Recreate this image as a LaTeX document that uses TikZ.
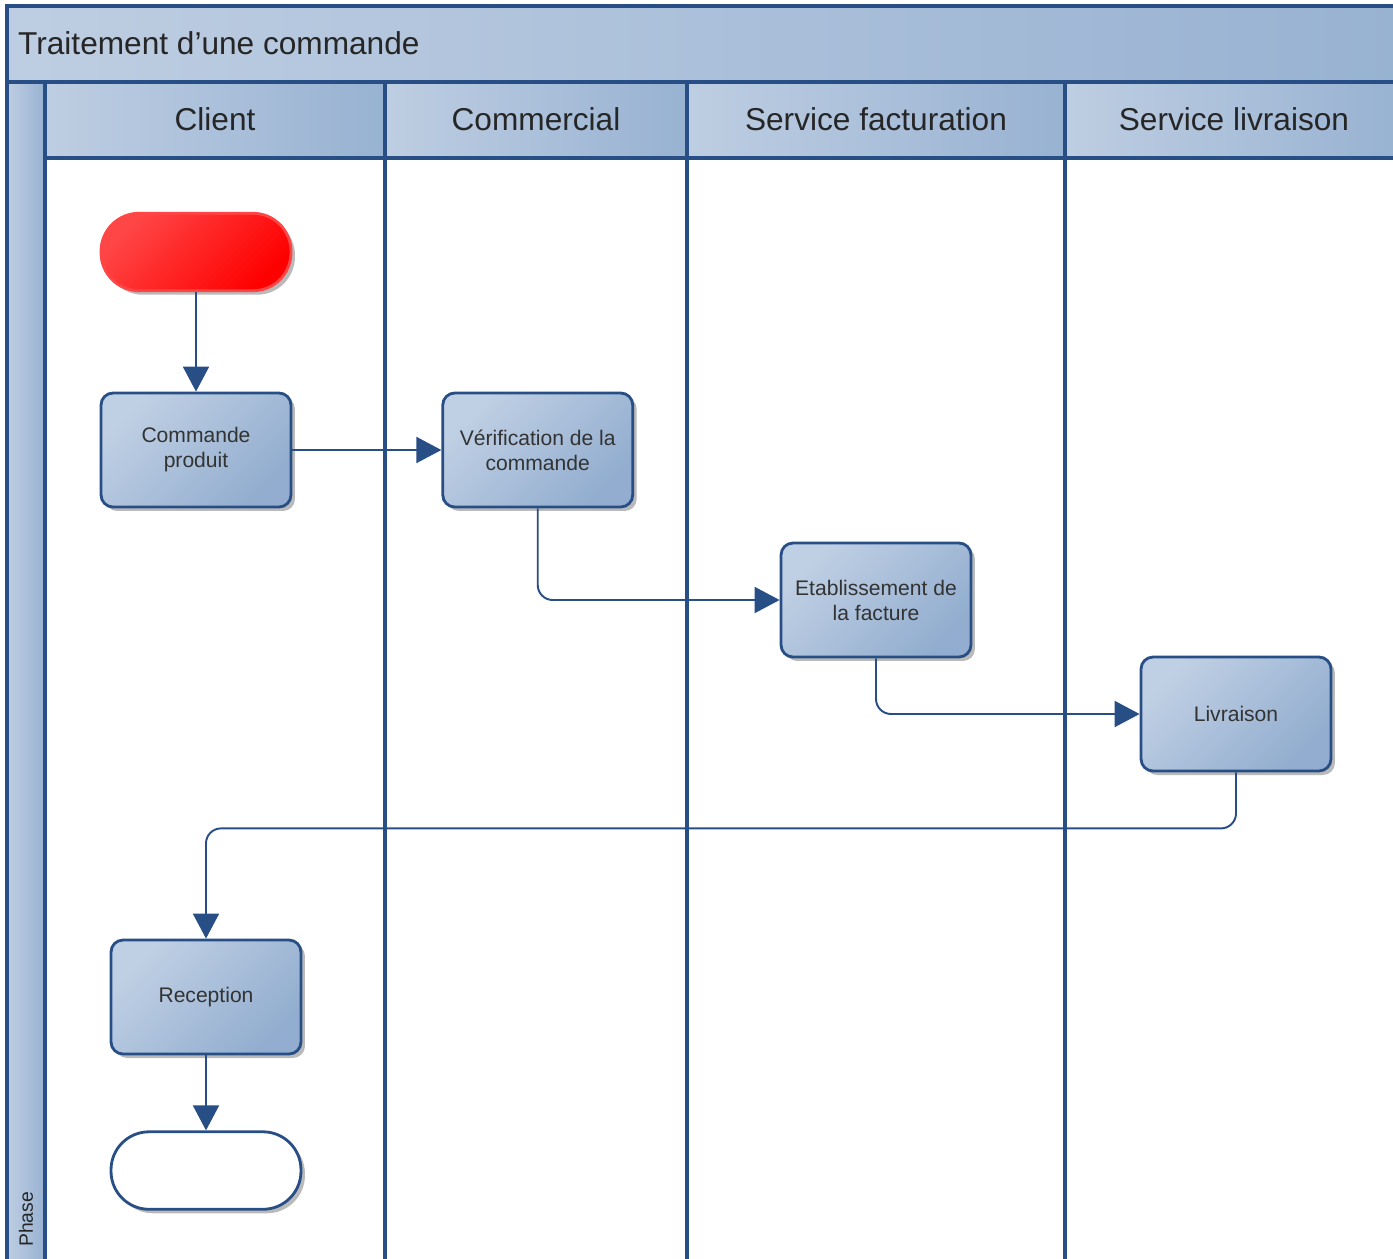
\documentclass[tikz,border=0pt]{standalone}
\usepackage{fontspec}
\setmainfont{Liberation Sans}
\usepackage{tikz}
\usetikzlibrary{arrows.meta, positioning, shadows}
\definecolor{lanecolor}{RGB}{40, 78, 134}
\definecolor{boxlight}{RGB}{192, 208, 228}
\definecolor{boxdark}{RGB}{146, 173, 207}
\definecolor{hdlight}{RGB}{190, 206, 226}
\definecolor{hddark}{RGB}{152, 178, 210}
\definecolor{startlight}{RGB}{255, 70, 70}

\begin{document}
\begin{tikzpicture}[
    x=0.02cm, y=-0.02cm,
    node distance=2cm,
    process/.style={rectangle, draw=lanecolor, line width=1.6pt, rounded corners=0.24cm, minimum width=3.8cm, minimum height=2.28cm, top color=boxlight, bottom color=boxdark, shading angle=45, text=black!80, align=center, font=\fontsize{12}{14.2}\selectfont, drop shadow={shadow xshift=0.08cm, shadow yshift=-0.08cm, fill=black!45, opacity=0.6}},
    terminal/.style={rectangle, line width=1.6pt, rounded corners=0.76cm, minimum width=3.8cm, minimum height=1.55cm, drop shadow={shadow xshift=0.08cm, shadow yshift=-0.08cm, fill=black!45, opacity=0.6}},
    header/.style={font=\fontsize{18}{22}\selectfont, text=black!85},
    lane/.style={draw=lanecolor, line width=2pt},
    flow/.style={draw=lanecolor, line width=1.1pt, rounded corners=0.3cm, -{Triangle[length=0.5cm, width=0.52cm]}}
]
\useasboundingbox (0,0) rectangle (1393,1258);
\clip (0,0) rectangle (1393,1258);

% pool and lanes
\shade[left color=hdlight, right color=hddark] (7,6) rectangle (1400,82);
\shade[left color=hdlight, right color=hddark] (7,82) rectangle (45,1265);
\shade[left color=hdlight, right color=hddark] (45,82) rectangle (385,158);
\shade[left color=hdlight, right color=hddark] (385,82) rectangle (687,158);
\shade[left color=hdlight, right color=hddark] (687,82) rectangle (1065,158);
\shade[left color=hdlight, right color=hddark] (1065,82) rectangle (1400,158);

\draw[lane] (7,6) rectangle (1400,1265);
\draw[lane] (7,82) -- (1400,82);
\draw[lane] (45,158) -- (1400,158);
\draw[lane] (45,82) -- (45,1265);
\draw[lane] (385,82) -- (385,1265);
\draw[lane] (687,82) -- (687,1265);
\draw[lane] (1065,82) -- (1065,1265);

\node[header, anchor=west] (title) at (12,43) {Traitement d’une commande};
\node[header] (client) at (215,119) {Client};
\node[header] (commercial) at (536,119) {Commercial};
\node[header] (facturation) at (876,119) {Service facturation};
\node[header] (livr) at (1234,119) {Service livraison};
\node[rotate=90, anchor=west, font=\fontsize{11}{13}\selectfont, text=black!85] (phase) at (26,1253) {Phase};

% flow
\node[terminal, draw=startlight, top color=startlight, bottom color=red, shading angle=45] (start) at (196,252) {};
\node[process] (cmd) at (196,450) {Commande\\produit};
\node[process, right=2.98cm of cmd] (verif) {Vérification de la\\commande};
\node[process] (facture) at (876,600) {Etablissement de\\la facture};
\node[process] (livraison) at (1236,714) {Livraison};
\node[process] (reception) at (206,997) {Reception};
\node[terminal, draw=lanecolor, fill=white, below=1.5cm of reception] (fin) {};

\draw[flow] (start) -- (cmd);
\draw[flow] (cmd) -- (verif);
\draw[flow] (verif.south) |- (facture.west);
\draw[flow] (facture.south) |- (livraison.west);
\draw[flow] (livraison.south) -- ++(0,56) -| (reception.north);
\draw[flow] (reception) -- (fin);

\end{tikzpicture}
\end{document}
